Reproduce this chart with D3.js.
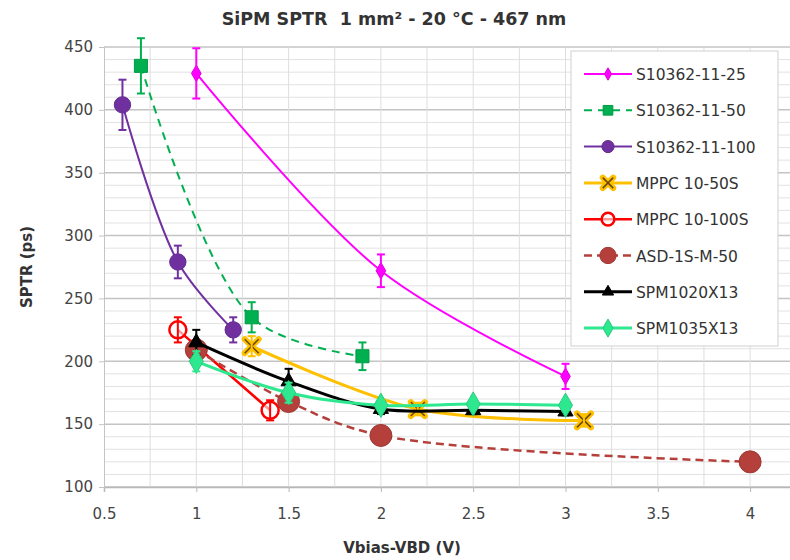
<!DOCTYPE html>
<html>
<head>
<meta charset="utf-8">
<script src="https://cdn.jsdelivr.net/npm/d3@7"></script>
<style>
  body { margin: 0; background: #fff; }
  text { font-family: "DejaVu Sans", Verdana, sans-serif; white-space: pre; }
</style>
</head>
<body>
<svg id="chart"></svg>
<script>
// data
var seriesNames = ["S10362-11-25", "S10362-11-50", "S10362-11-100", "MPPC 10-50S",
                   "MPPC 10-100S", "ASD-1S-M-50", "SPM1020X13", "SPM1035X13"];

var s25x = [1, 2, 3];
var s25y = [429, 272, 188];
var s25e = [20, 13, 10];

var s50x = [0.7, 1.3, 1.9];
var s50y = [435, 235, 204];
var s50e = [22, 12, 11];

var s100x = [0.6, 0.9, 1.2];
var s100y = [404, 279, 225];
var s100e = [20, 13, 10];

var mppc50x = [1.3, 2.2, 3.1];
var mppc50y = [212, 162, 153];
var mppc50e = [8, 5, 5];

var mppc100x = [0.9, 1.4];
var mppc100y = [225, 161];
var mppc100e = [10, 8];

var asdx = [1.0, 1.5, 2.0, 4.0];
var asdy = [209, 168, 141, 120];
var asde = [0, 0, 0, 0];

var spm1020x = [1, 1.5, 2, 2.5, 3];
var spm1020y = [215, 184, 162, 161, 160];
var spm1020e = [10, 10, 4, 3, 3];

var spm1035x = [1, 1.5, 2, 2.5, 3];
var spm1035y = [200, 175, 165, 166, 165];
var spm1035e = [8, 8, 4, 4, 4];

var xTicks = [0.5, 1, 1.5, 2, 2.5, 3, 3.5, 4];
var yTicks = [100, 150, 200, 250, 300, 350, 400, 450];

var zip = function(xs, ys, es) {
  return xs.map(function(x, i) { return {x: x, y: ys[i], e: es[i]}; });
};

// style per series (legend order = draw order)
var series = [
  {pts: zip(s25x, s25y, s25e), color: "#ff00ff", width: 2, dash: null, sym: "diamond", size: 80},
  {pts: zip(s50x, s50y, s50e), color: "#00b050", width: 2, dash: "8,6", sym: "square", size: 170},
  {pts: zip(s100x, s100y, s100e), color: "#7030a0", width: 2, dash: null, sym: "circle", size: 210},
  {pts: zip(mppc50x, mppc50y, mppc50e), color: "#ffc000", width: 3, dash: null, sym: "x", size: 7},
  {pts: zip(mppc100x, mppc100y, mppc100e), color: "#ff0000", width: 2.5, dash: null, sym: "ring", size: 8.5},
  {pts: zip(asdx, asdy, asde), color: "#b5403b", width: 2.5, dash: "8,5", sym: "circle", size: 380},
  {pts: zip(spm1020x, spm1020y, spm1020e), color: "#000000", width: 3, dash: null, sym: "triangle", size: 100},
  {pts: zip(spm1035x, spm1035y, spm1035e), color: "#2ee890", width: 3, dash: null, sym: "diamond", size: 170}
];

var width = 790, height = 560;
var svg = d3.select("#chart").attr("width", width).attr("height", height);
svg.append("rect").attr("width", width).attr("height", height).attr("fill", "#fff");

//scales
var x = d3.scaleLinear().domain([0.5, 4.25]).range([104, 104 + 3.75 * 184.6]);
var y = d3.scaleLinear().domain([100, 450]).range([487, 47]);

// grid
var grid = svg.append("g");
grid.selectAll(".hminor").data(d3.range(100, 451, 10))
  .enter().append("line")
  .attr("x1", x(0.5)).attr("x2", width)
  .attr("y1", function(d){ return y(d); }).attr("y2", function(d){ return y(d); })
  .attr("stroke", function(d){ return d % 50 === 0 ? "#c4c4c4" : "#e2e2e2"; })
  .attr("stroke-width", function(d){ return d % 50 === 0 ? 1.5 : 1; });

grid.selectAll(".vminor").data(d3.range(0.75, 4.3, 0.25))
  .enter().append("line")
  .attr("x1", function(d){ return x(d); }).attr("x2", function(d){ return x(d); })
  .attr("y1", y(450)).attr("y2", y(100))
  .attr("stroke", "#dedede").attr("stroke-width", 1);

// axes
var xAxis = svg.append("g")
  .attr("transform", "translate(0," + y(100) + ")")
  .call(d3.axisBottom(x).tickValues(xTicks).tickSize(5).tickPadding(16)
        .tickFormat(function(d){ return String(d); }));
xAxis.select(".domain").attr("stroke", "#b8b8b8").attr("stroke-width", 1.5);
xAxis.selectAll(".tick line").attr("stroke", "#b8b8b8");
xAxis.selectAll("text").attr("font-size", 15).attr("fill", "#444");

var yAxis = svg.append("g")
  .attr("transform", "translate(" + x(0.5) + ",0)")
  .call(d3.axisLeft(y).tickValues(yTicks).tickSize(5).tickPadding(6));
yAxis.select(".domain").attr("stroke", "#c4c4c4");
yAxis.selectAll(".tick line").attr("stroke", "#c4c4c4");
yAxis.selectAll("text").attr("font-size", 15).attr("fill", "#444");

// titles
svg.append("text").attr("x", 394).attr("y", 25).attr("text-anchor", "middle")
  .attr("font-size", 17.5).attr("font-weight", "bold").attr("fill", "#333")
  .text("SiPM SPTR  1 mm² - 20 °C - 467 nm");
svg.append("text").attr("x", 402).attr("y", 553).attr("text-anchor", "middle")
  .attr("font-size", 15).attr("font-weight", "bold").attr("fill", "#333")
  .text("Vbias-VBD (V)");
svg.append("text").attr("transform", "translate(32," + y(275) + ") rotate(-90)")
  .attr("text-anchor", "middle")
  .attr("font-size", 15).attr("font-weight", "bold").attr("fill", "#333")
  .text("SPTR (ps)");

// marker drawing
var drawMarker = function(g, s) {
  var c = s.color;
  if (s.sym === "x") {
    var r = s.size;
    var p = "M" + (-r) + "," + (-r) + "L" + r + "," + r + "M" + (-r) + "," + r + "L" + r + "," + (-r);
    g.append("path").attr("d", p).attr("stroke", c).attr("stroke-width", 6).attr("stroke-linecap", "round");
    g.append("path").attr("d", p).attr("stroke", "#6b4a00").attr("stroke-width", 1.5);
  } else if (s.sym === "ring") {
    g.append("circle").attr("r", s.size).attr("fill", "#fff").attr("fill-opacity", 0.6)
      .attr("stroke", c).attr("stroke-width", 2.5);
  } else {
    var t = {diamond: d3.symbolDiamond, square: d3.symbolSquare,
             circle: d3.symbolCircle, triangle: d3.symbolTriangle}[s.sym];
    g.append("path").attr("d", d3.symbol().type(t).size(s.size)())
      .attr("fill", c).attr("stroke", d3.color(c).darker(0.4)).attr("stroke-width", 1);
  }
};

var line = d3.line()
  .x(function(d){ return x(d.x); })
  .y(function(d){ return y(d.y); })
  .curve(d3.curveCatmullRom.alpha(0.5));

var plot = svg.append("g");
series.forEach(function(s) {
  var g = plot.append("g");
  g.append("path").datum(s.pts).attr("d", line)
    .attr("fill", "none").attr("stroke", s.color).attr("stroke-width", s.width)
    .attr("stroke-dasharray", s.dash);
  s.pts.forEach(function(p) {
    var m = g.append("g").attr("transform", "translate(" + x(p.x) + "," + y(p.y) + ")");
    drawMarker(m, s);
    if (p.e > 0) {
      var eb = g.append("g").attr("stroke", s.color).attr("stroke-width", 2);
      eb.append("line").attr("x1", x(p.x)).attr("x2", x(p.x))
        .attr("y1", y(p.y - p.e)).attr("y2", y(p.y + p.e));
      [p.y - p.e, p.y + p.e].forEach(function(v) {
        eb.append("line").attr("x1", x(p.x) - 4).attr("x2", x(p.x) + 4)
          .attr("y1", y(v)).attr("y2", y(v));
      });
    }
  });
});

// legend
var lg = svg.append("g");
lg.append("rect").attr("x", 571).attr("y", 51).attr("width", 207).attr("height", 295)
  .attr("fill", "#fff").attr("stroke", "#cfcfcf").attr("stroke-width", 1);
series.forEach(function(s, i) {
  var ly = 74 + i * 36.3;
  var row = lg.append("g");
  row.append("line").attr("x1", 584).attr("x2", 632).attr("y1", ly).attr("y2", ly)
    .attr("stroke", s.color).attr("stroke-width", s.width).attr("stroke-dasharray", s.dash);
  var m = row.append("g").attr("transform", "translate(608," + ly + ")");
  var small = Object.assign({}, s);
  if (s.sym === "x" || s.sym === "ring") small.size = s.size * 0.75;
  else small.size = s.size * 0.55;
  drawMarker(m, small);
  row.append("text").attr("x", 636).attr("y", ly + 6)
    .attr("font-size", 15.5).attr("fill", "#333").text(seriesNames[i]);
});
</script>
</body>
</html>
